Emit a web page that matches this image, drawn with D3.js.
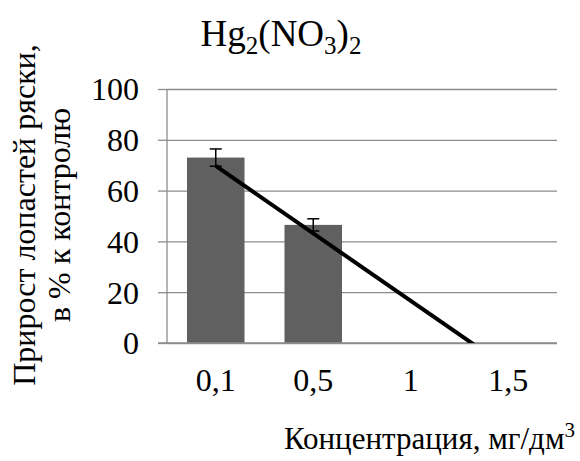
<!DOCTYPE html>
<meta charset="utf-8">
<style>
  body { margin: 0; background: #fff; }
  svg text { font-family: 'Liberation Serif', serif; fill: #000; }
</style>
<svg width="580" height="461"></svg>
<script src="https://cdn.jsdelivr.net/npm/d3@7"></script>
<script>
var categories = ["0,1", "0,5", "1", "1,5"];
var values = [73, 46.5, 0, 0];
var errors = [3.4, 2.4, 0, 0];
var yTicks = [0, 20, 40, 60, 80, 100];

var svg = d3.select("svg"),
    plotL = 167, plotR = 557, plotT = 89, plotB = 343,
    serif = "'Liberation Serif', serif";

var x = d3.scaleBand()
    .domain(categories)
    .range([plotL, plotR])
    .paddingInner(0.41)
    .paddingOuter(0.205);

var y = d3.scaleLinear()
    .domain([0, 100])
    .range([plotB, plotT]);

// gridlines + y labels
var yAxis = svg.append("g")
    .attr("transform", "translate(" + plotL + ",0)")
    .call(d3.axisLeft(y).tickValues(yTicks).tickSize(9).tickPadding(19).tickFormat(d3.format("d")));
yAxis.attr("font-family", serif).attr("font-size", 32);
yAxis.select(".domain").remove();
yAxis.selectAll(".tick line").attr("stroke", "#8c8c8c").attr("stroke-width", 1.3);
yAxis.selectAll(".tick").append("line")
    .attr("x1", 0).attr("x2", plotR - plotL)
    .attr("stroke", "#8c8c8c").attr("stroke-width", 1.3);
yAxis.selectAll(".tick text")
    .attr("fill", "#000")
    .attr("dy", "0.34em");

svg.append("line")
    .attr("x1", plotL).attr("x2", plotL)
    .attr("y1", plotT).attr("y2", plotB)
    .attr("stroke", "#8c8c8c").attr("stroke-width", 1.3);

// bars
svg.selectAll("rect.bar")
    .data(values)
  .enter().append("rect")
    .attr("class", "bar")
    .attr("x", function(d, i) { return x(categories[i]); })
    .attr("width", x.bandwidth())
    .attr("y", function(d) { return y(d); })
    .attr("height", function(d) { return y(0) - y(d); })
    .attr("fill", "#606060");

// x axis baseline
svg.append("line")
    .attr("x1", plotL - 9).attr("x2", plotR)
    .attr("y1", plotB).attr("y2", plotB)
    .attr("stroke", "#8c8c8c").attr("stroke-width", 1.3);

// error bars
var eb = svg.selectAll("g.err")
    .data(values.map(function(v, i) { return {v: v, e: errors[i], c: categories[i]}; })
      .filter(function(d) { return d.e > 0; }))
  .enter().append("g")
    .attr("class", "err")
    .attr("transform", function(d) { return "translate(" + (x(d.c) + x.bandwidth() / 2) + ",0)"; });
eb.append("line")
    .attr("y1", function(d) { return y(d.v + d.e); })
    .attr("y2", function(d) { return y(d.v - d.e); })
    .attr("stroke", "#000").attr("stroke-width", 1.5);
eb.selectAll("line.cap")
    .data(function(d) { return [d.v + d.e, d.v - d.e]; })
  .enter().append("line")
    .attr("class", "cap")
    .attr("x1", -6).attr("x2", 6)
    .attr("y1", function(d) { return y(d); })
    .attr("y2", function(d) { return y(d); })
    .attr("stroke", "#000").attr("stroke-width", 1.5);

// linear trend line (least squares over category index 1..n)
var n = values.length,
    xs = d3.range(1, n + 1),
    mx = d3.mean(xs), my = d3.mean(values),
    slope = d3.sum(xs, function(xi, i) { return (xi - mx) * (values[i] - my); }) /
            d3.sum(xs, function(xi) { return (xi - mx) * (xi - mx); }),
    icpt = my - slope * mx;
var xi = d3.scaleLinear()
    .domain([1, n])
    .range([x(categories[0]) + x.bandwidth() / 2, x(categories[n - 1]) + x.bandwidth() / 2]);

svg.append("clipPath").attr("id", "plot")
  .append("rect")
    .attr("x", plotL).attr("y", plotT)
    .attr("width", plotR - plotL).attr("height", plotB - plotT);

svg.append("path")
    .datum([1, n])
    .attr("clip-path", "url(#plot)")
    .attr("fill", "none")
    .attr("stroke", "#000")
    .attr("stroke-width", 4)
    .attr("d", d3.line()
      .x(function(d) { return xi(d); })
      .y(function(d) { return y(icpt + slope * d); }));

// x labels
svg.selectAll("text.xlab")
    .data(categories)
  .enter().append("text")
    .attr("class", "xlab")
    .attr("x", function(d) { return x(d) + x.bandwidth() / 2; })
    .attr("y", 391)
    .attr("text-anchor", "middle")
    .style("font-family", serif)
    .style("font-size", "32px")
    .text(function(d) { return d; });

// title
var title = svg.append("text")
    .attr("x", 281)
    .attr("y", 46)
    .attr("text-anchor", "middle")
    .style("font-family", serif)
    .style("font-size", "37px");
title.append("tspan").text("Hg");
title.append("tspan").attr("dy", 8).style("font-size", "25px").text("2");
title.append("tspan").attr("dy", -8).text("(NO");
title.append("tspan").attr("dy", 8).style("font-size", "25px").text("3");
title.append("tspan").attr("dy", -8).text(")");
title.append("tspan").attr("dy", 8).style("font-size", "25px").text("2");

// y title
var yt = svg.append("text")
    .attr("transform", "translate(0,215) rotate(-90)")
    .attr("text-anchor", "middle")
    .style("font-family", serif)
    .style("font-size", "32px");
yt.append("tspan").attr("x", 0).attr("y", 35).text("Прирост лопастей ряски,");
yt.append("tspan").attr("x", 0).attr("y", 70).text("в % к контролю");

// x title
var xt = svg.append("text")
    .attr("x", 575)
    .attr("y", 449)
    .attr("text-anchor", "end")
    .style("font-family", serif)
    .style("font-size", "31px");
xt.append("tspan").text("Концентрация, мг/дм");
xt.append("tspan").attr("dy", -12).style("font-size", "21px").text("3");
</script>
